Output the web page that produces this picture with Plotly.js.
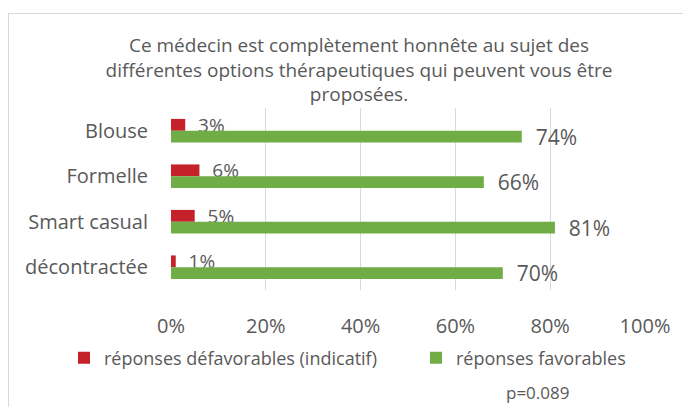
<!DOCTYPE html>
<html>
<head>
<meta charset="utf-8">
<script src="https://cdn.plot.ly/plotly-3.0.1.min.js"></script>
<style>
html,body{margin:0;padding:0;background:#fff;overflow:hidden;}
#frame{position:absolute;left:8px;top:13px;width:720px;height:440px;border:1px solid #d9d9d9;pointer-events:none;}
#chart{position:absolute;left:0;top:0;width:683px;height:407px;}
</style>
</head>
<body>
<div id="chart"></div>
<div id="frame"></div>
<script>
const categories = ['Blouse', 'Formelle', 'Smart casual', 'décontractée'];
const defavorables = [3, 6, 5, 1];
const favorables = [74, 66, 81, 70];
const tickVals = [0, 20, 40, 60, 80, 100];
const tickLabels = ['0%', '20%', '40%', '60%', '80%', '100%'];
const titleText = 'Ce médecin est complètement honnête au sujet des<br>différentes options thérapeutiques qui peuvent vous être<br>proposées.';
const seriesNames = ['réponses défavorables (indicatif)', 'réponses favorables'];
const pNote = 'p=0.089';

const FONT = '"Open Sans", Lato, sans-serif';
const GREY = '#595959';
const pad = '\u00a0\u00a0';

const traces = [
  {
    type: 'bar', orientation: 'h', name: seriesNames[0],
    y: categories, x: defavorables,
    marker: {color: '#C4212B'},
    text: defavorables.map(v => pad + v + '%'),
    textposition: 'outside', cliponaxis: false, constraintext: 'none',
    textfont: {family: FONT, size: 19, color: GREY},
    hoverinfo: 'none', legend: 'legend'
  },
  {
    type: 'bar', orientation: 'h', name: seriesNames[1],
    y: categories, x: favorables,
    marker: {color: '#70AD47'},
    text: favorables.map(v => pad + v + '%'),
    textposition: 'outside', cliponaxis: false, constraintext: 'none',
    textfont: {family: FONT, size: 21, color: GREY},
    hoverinfo: 'none', legend: 'legend2'
  }
];

const legendCommon = {
  orientation: 'h', xref: 'container', yref: 'container',
  xanchor: 'left', yanchor: 'middle', y: 1 - 358 / 407,
  font: {family: FONT, size: 18, color: GREY},
  itemclick: false, itemdoubleclick: false, bgcolor: 'rgba(0,0,0,0)'
};

const layout = {
  width: 683, height: 407,
  paper_bgcolor: 'rgba(0,0,0,0)', plot_bgcolor: 'rgba(0,0,0,0)',
  margin: {l: 171, r: 38, t: 108, b: 117, pad: 0},
  barmode: 'group', bargap: 0.48, bargroupgap: 0,
  font: {family: FONT, color: GREY},
  title: {
    text: titleText, xref: 'container', yref: 'container',
    x: 359 / 683, xanchor: 'center', y: 1 - 52 / 407, yanchor: 'middle',
    font: {family: FONT, size: 19, color: GREY}
  },
  xaxis: {
    range: [0, 100], tickvals: tickVals, ticktext: tickLabels,
    showgrid: true, gridcolor: '#d9d9d9', gridwidth: 1,
    zeroline: false, showline: false, ticks: '',
    tickfont: {family: FONT, size: 20, color: GREY},
    ticklabelstandoff: 22, fixedrange: true
  },
  yaxis: {
    autorange: 'reversed', type: 'category',
    showgrid: false, zeroline: false, showline: false, ticks: '',
    tickfont: {family: FONT, size: 20, color: GREY},
    ticklabelstandoff: 22, fixedrange: true
  },
  showlegend: true,
  legend: Object.assign({}, legendCommon, {x: 64 / 683}),
  legend2: Object.assign({}, legendCommon, {x: 416 / 683}),
  annotations: [
    {text: pNote, xref: 'paper', yref: 'paper',
     x: (537 - 171) / 474, y: (290 - 392) / 182,
     xanchor: 'center', yanchor: 'middle', showarrow: false,
     font: {family: FONT, size: 17, color: GREY}}
  ]
};

Plotly.newPlot('chart', traces, layout, {displayModeBar: false, staticPlot: true});
</script>
</body>
</html>
